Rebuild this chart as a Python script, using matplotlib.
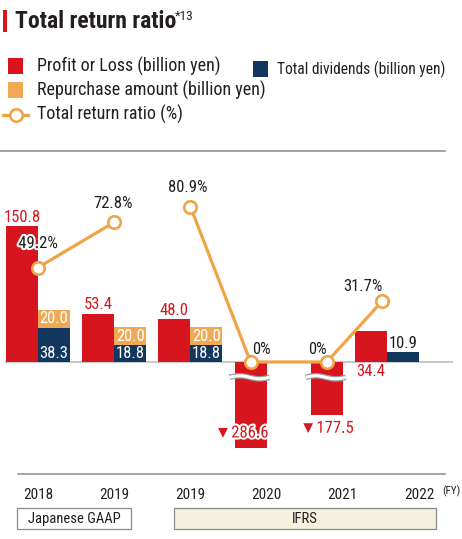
import matplotlib
matplotlib.use('Agg')
import matplotlib.pyplot as plt
import matplotlib.patheffects as pe
from matplotlib import font_manager
from matplotlib.patches import Rectangle
from matplotlib.lines import Line2D
import numpy as np

years = ['2018', '2019', '2019', '2020', '2021', '2022']
profit = [150.8, 53.4, 48.0, -286.6, -177.5, 34.4]
repurchase = [20.0, 20.0, 20.0, 0, 0, 0]
dividends = [38.3, 18.8, 18.8, 0, 0, 10.9]
ratio = [49.2, 72.8, 80.9, 0, 0, 31.7]
standards = ['Japanese GAAP', 'IFRS']
n_gaap = 2  # first two years are under Japanese GAAP

RED = '#d7151e'
ORANGE = '#f0aa56'
NAVY = '#11375e'
LINE = '#efa547'
INK = '#231f20'
W, H = 462, 539

names = {f.name for f in font_manager.fontManager.ttflist}
narrow = [n for n in ['Liberation Sans Narrow', 'Roboto Condensed', 'Arial Narrow'] if n in names]
plt.rcParams['font.family'] = narrow + ['Liberation Sans', 'DejaVu Sans']


def px(x, y):
    return x / W, 1 - y / H


fig = plt.figure(figsize=(W / 100, H / 100), dpi=100)

# axes: zero line at y=362px, 0.9 px per billion yen, 1.92 px per %
ax = fig.add_axes([0, 1 - 474 / H, 1, (474 - 151) / H])
gx = 76.2
ax.set_xlim(-38 / gx, (W - 38) / gx)
ylo, yhi = -(474 - 362) / 0.9, (362 - 151) / 0.9
ax.set_ylim(ylo, yhi)
ax2 = ax.twinx()
ax2.set_ylim(ylo * 0.9 / 1.92, yhi * 0.9 / 1.92)

for a in (ax, ax2):
    for s in a.spines.values():
        s.set_visible(False)
    a.set_yticks([])
ax.spines['top'].set_visible(True)
ax.spines['bottom'].set_visible(True)
ax.spines['top'].set_bounds(-38 / gx, (445 - 38) / gx)
ax.spines['bottom'].set_bounds((18 - 38) / gx, (445 - 38) / gx)
for s in ('top', 'bottom'):
    ax.spines[s].set_color('#8c8c8c')
    ax.spines[s].set_linewidth(1.1)

x = np.arange(len(years))
bw = 32 / gx
shift = np.array([0, 0, 0, 0, 0, -bw])  # the 2022 pair sits left of its label
BREAK = -100  # bars beyond this are drawn broken, at a third of their length
disp = np.array([v if v > BREAK else v / 3 for v in profit])

ax.plot([(6 - 38) / gx, (452 - 38) / gx], [0, 0], color='#c9c9c9', lw=1.5, zorder=1)
ax.bar(x + shift - bw / 2, disp, bw, color=RED, zorder=2)
ax.bar(x + shift + bw / 2, dividends, bw, color=NAVY, zorder=2)
ax.bar(x + shift + bw / 2, repurchase, bw, bottom=dividends, color=ORANGE, zorder=2)


def break_mark(xc, y0):
    xs = np.linspace(xc - bw / 2 - 5 / gx, xc + bw / 2 + 3 / gx, 60)
    ys = y0 + 1.7 * np.sin(2 * np.pi * (xs - xs[0]) / (xs[-1] - xs[0]))
    ax.plot(xs, ys, color='#9a9a9a', lw=4, zorder=4, solid_capstyle='butt')
    ax.plot(xs, ys, color='white', lw=2.2, zorder=5, solid_capstyle='butt')


for i, v in enumerate(profit):
    if v <= BREAK:
        break_mark(x[i] + shift[i] - bw / 2, -17)

# ratio line, one piece per accounting standard
lx = x + np.array([0, 0, 0, -0.5, -0.5, -1.15]) * bw
for sl in (slice(0, n_gaap), slice(n_gaap, None)):
    ax2.plot(lx[sl], ratio[sl], color=LINE, lw=2.3, marker='o', ms=9, mfc='white',
             mec=LINE, mew=1.9, zorder=3)

fs = 12
halo = [pe.withStroke(linewidth=3, foreground='white')]

# profit labels
red_off = [(0, 9), (0, 9), (0, 8), (-9, 15), (0, -13), (0, -10)]
for i, v in enumerate(profit):
    xc = x[i] + shift[i] - bw / 2
    yy = 0 if i == 5 else disp[i]
    txt = f'{v:.1f}' if v > 0 else f'\u25bc{-v:.1f}'
    t = ax2.annotate(txt, (xc, yy * 0.9 / 1.92), xytext=red_off[i], textcoords='offset pixels',
                     ha='center', va='center', color=RED, fontsize=fs, zorder=6)
    if v < 0:
        t.set_path_effects(halo)

# stacked labels
for i in range(len(years)):
    xs = x[i] + shift[i] + bw / 2
    if repurchase[i] > 0:
        ax.text(xs, dividends[i] + repurchase[i] / 2, f'{repurchase[i]:.1f}', ha='center',
                va='center', color='white', fontsize=fs, zorder=6)
    if dividends[i] > 0:
        if repurchase[i] > 0:
            ax.annotate(f'{dividends[i]:.1f}', (xs, 0), xytext=(0, 9), textcoords='offset pixels',
                        ha='center', va='center', color='white', fontsize=fs, zorder=6)
        else:
            ax.annotate(f'{dividends[i]:.1f}', (xs, dividends[i]), xytext=(0, 9),
                        textcoords='offset pixels', ha='center', va='center', color=INK,
                        fontsize=fs, zorder=6)

# ratio labels
pct_off = [(0, 24), (-1, 19), (-3, 19), (11, 13), (-9, 13), (-19, 15)]
for i, r in enumerate(ratio):
    t = ax2.annotate(f'{r:g}%', (lx[i], r), xytext=pct_off[i], textcoords='offset pixels',
                     ha='center', va='center', color=INK, fontsize=fs, zorder=7)
    if i == 0:
        t.set_path_effects(halo)

ax.set_xticks(x)
ax.set_xticklabels(years, fontsize=11, color=INK)
ax.tick_params(axis='x', length=0, pad=10)
fig.text(*px(442, 491), '(FY)', fontsize=8, color=INK, va='center')

# accounting standard boxes
boxes = [(17, 131, 'white'), (174, 436, '#f4f1dc')]
for (x0, x1, fc), name in zip(boxes, standards):
    fx, fy = px(x0, 529)
    fig.add_artist(Rectangle((fx, fy), (x1 - x0) / W, 21 / H, transform=fig.transFigure,
                             facecolor=fc, edgecolor='#8a8a8a', lw=0.9))
    fig.text(*px((x0 + x1) / 2, 519), name, fontsize=10.5, color=INK, ha='center', va='center')

# title
fig.add_artist(Rectangle(px(3, 32), 4 / W, 22 / H, transform=fig.transFigure, color=RED, lw=0))
fig.text(*px(15, 28), 'Total return ratio', fontsize=17, fontweight='bold', color=INK,
         va='baseline')
fig.text(*px(175, 20), '*13', fontsize=9.5, color=INK, va='baseline')

# legend
items = [(8, 66, RED, 'Profit or Loss (billion yen)', 13, 37),
         (8, 90, ORANGE, 'Repurchase amount (billion yen)', 13, 37),
         (253, 69, NAVY, 'Total dividends (billion yen)', 11.2, 277)]
for lx0, ly, c, lab, lfs, tx in items:
    fig.add_artist(Rectangle(px(lx0, ly + 7.5), 15 / W, 15 / H, transform=fig.transFigure,
                             color=c, lw=0))
    fig.text(*px(tx, ly), lab, fontsize=lfs, color=INK, va='center')
fig.add_artist(Line2D([3 / W, 28 / W], [1 - 115 / H] * 2, transform=fig.transFigure,
                      color=LINE, lw=2.3))
fig.add_artist(Line2D([15.5 / W], [1 - 115 / H], transform=fig.transFigure, marker='o',
                      ms=9, mfc='white', mec=LINE, mew=1.9))
fig.text(*px(37, 114), 'Total return ratio (%)', fontsize=13, color=INK, va='center')

fig.savefig('out.png', dpi=100)
